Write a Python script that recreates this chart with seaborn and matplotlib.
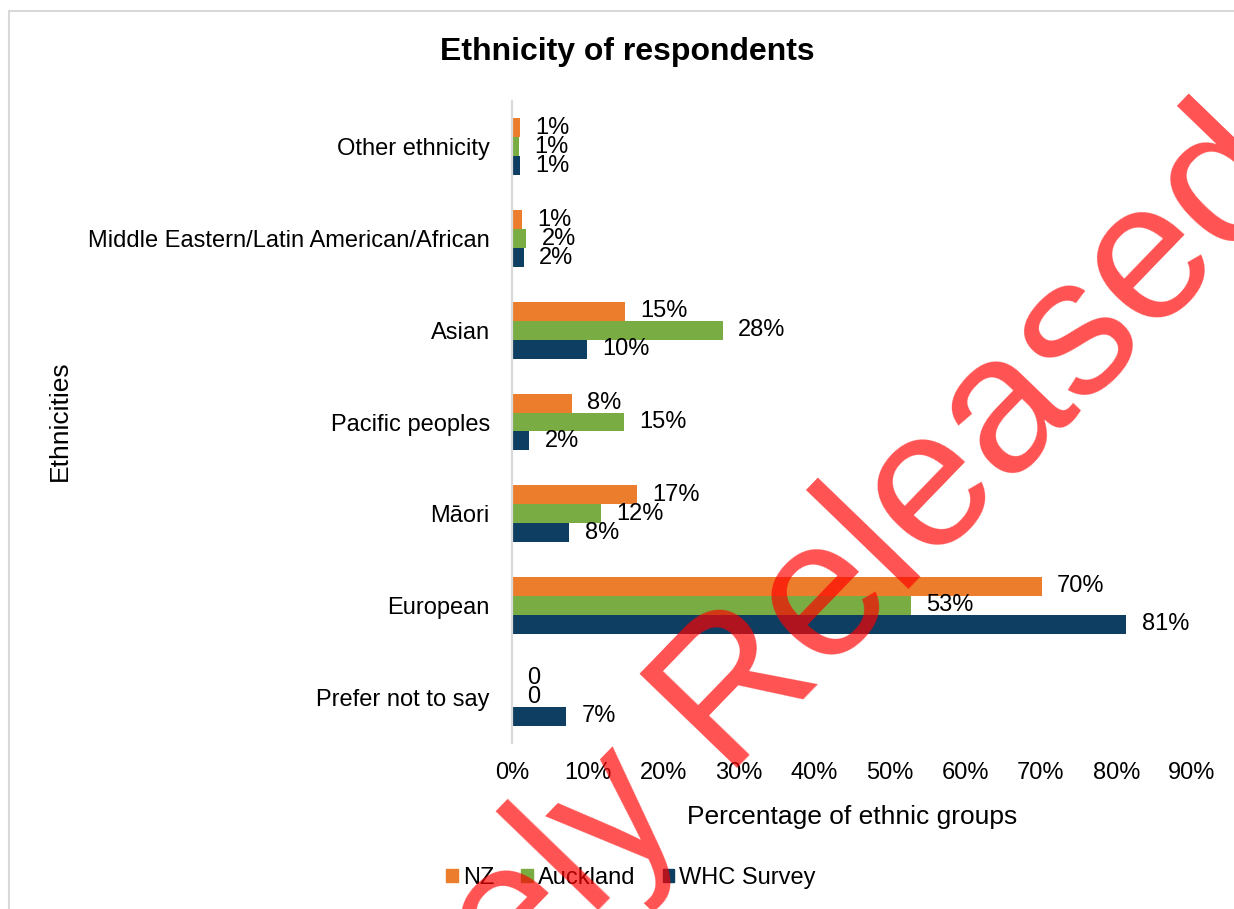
import numpy as np
import pandas as pd
import seaborn as sns
import matplotlib
matplotlib.use('Agg')
import matplotlib.pyplot as plt
from matplotlib.patches import Rectangle

categories = ['Other ethnicity', 'Middle Eastern/Latin American/African', 'Asian',
              'Pacific peoples', 'Māori', 'European', 'Prefer not to say']
series = ['NZ', 'Auckland', 'WHC Survey']
nz = [1.1, 1.3, 14.9, 7.9, 16.6, 70.1, 0.0]
auckland = [0.9, 1.9, 27.9, 14.8, 11.8, 52.8, 0.0]
whc = [1.0, 1.6, 9.9, 2.3, 7.6, 81.3, 7.2]
xticks = [0, 10, 20, 30, 40, 50, 60, 70, 80, 90]
colors = ['#EB7D2C', '#79AC43', '#0E3E61']

rows = []
for name, vals in zip(series, [nz, auckland, whc]):
    for cat, v in zip(categories, vals):
        rows.append({'ethnicity': cat, 'series': name, 'pct': v})
df = pd.DataFrame(rows)

sns.set_style('white')
plt.rcParams['font.family'] = ['Liberation Sans', 'DejaVu Sans']
plt.rcParams['text.color'] = 'black'
plt.rcParams['xtick.color'] = 'black'
plt.rcParams['ytick.color'] = 'black'
plt.rcParams['axes.labelcolor'] = 'black'

W, H = 1234, 909
fig = plt.figure(figsize=(W / 100, H / 100), dpi=100)
ax = fig.add_axes([512 / W, 1 - 743 / H, (1192 - 512) / W, (743 - 101) / H])

sns.barplot(data=df, x='pct', y='ethnicity', hue='series', order=categories,
            hue_order=series, palette=colors, orient='h', width=0.62,
            linewidth=0, saturation=1, ax=ax, legend=False)

for cont, vals in zip(ax.containers, [nz, auckland, whc]):
    labels = [f'{round(v)}%' if v > 0 else '0' for v in vals]
    ax.bar_label(cont, labels=labels, padding=11, fontsize=17, color='black')
for t in ax.texts:
    x, y = t.get_position()
    t.set_position((x, y))
    t.set_va('center')

ax.set_xlim(0, 90)
ax.set_xticks(xticks)
ax.set_xticklabels([f'{t}%' for t in xticks])
ax.tick_params(axis='x', labelsize=17, pad=14, length=0, labelcolor='black')
ax.tick_params(axis='y', labelsize=17, pad=16, length=0, labelcolor='black')
ax.set_xlabel('')
ax.set_ylabel('')
for s in ['top', 'right', 'bottom']:
    ax.spines[s].set_visible(False)
ax.spines['left'].set_color('#D9D9D9')
ax.spines['left'].set_linewidth(1.6)

fig.text(627 / W, 1 - 52 / H, 'Ethnicity of respondents', fontsize=23,
         fontweight='bold', ha='center', va='center', color='black')
fig.text(852 / W, 1 - 817 / H, 'Percentage of ethnic groups', fontsize=19,
         ha='center', va='center', color='black')
fig.text(60 / W, 1 - 421 / H, 'Ethnicities', fontsize=19, rotation=90,
         ha='center', va='center', color='black')

handles = [Rectangle((0, 0), 1, 1, color=c) for c in colors]
leg = fig.legend(handles, series, loc='center', bbox_to_anchor=(631 / W, 1 - 878 / H),
                 ncol=3, frameon=False, fontsize=17, handlelength=0.5, handleheight=0.5,
                 handletextpad=0.2, columnspacing=1.15, borderpad=0)
for t in leg.get_texts():
    t.set_color('black')

# chart frame
fig.patches.append(Rectangle((9 / W, -0.05), 1.1, 1 - 11 / H + 0.05,
                             transform=fig.transFigure, fill=False,
                             edgecolor='#D9D9D9', linewidth=1.5))

# watermark
fig.text(662 / W, 1 - 845 / H, 'Proactively Released', fontsize=141,
         color='red', alpha=0.68, rotation=46, rotation_mode='anchor',
         ha='center', va='baseline', zorder=10)

fig.savefig('out.png', dpi=100)
